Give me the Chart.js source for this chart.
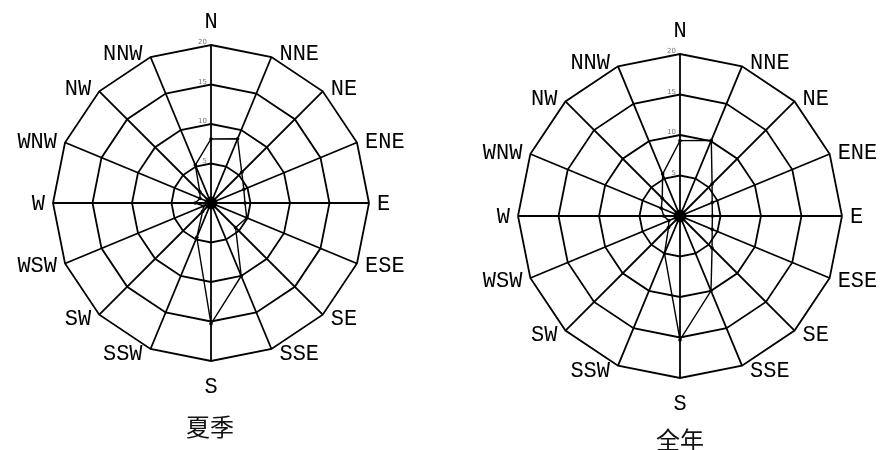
<!DOCTYPE html>
<html>
<head>
<meta charset="utf-8">
<script src="https://cdn.jsdelivr.net/npm/chart.js@4/dist/chart.umd.min.js"></script>
<style>
  html, body { margin: 0; padding: 0; background: #fff; }
  body { width: 881px; height: 450px; position: relative; overflow: hidden; }
  canvas { position: absolute; top: 0; }
  #summer { left: 0; }
  #annual { left: 440px; }
  .caption { position: absolute; font: 24px "Noto Sans CJK SC", sans-serif; line-height: 24px; color: #111; width: 120px; text-align: center; }
</style>
</head>
<body>
<canvas id="summer" width="440" height="450"></canvas>
<canvas id="annual" width="441" height="450"></canvas>
<div class="caption" style="left:150px; top:414px;">夏季</div>
<div class="caption" style="left:620px; top:427px;">全年</div>
<script>
const DIRECTIONS = ['N', 'NNE', 'NE', 'ENE', 'E', 'ESE', 'SE', 'SSE', 'S', 'SSW', 'SW', 'WSW', 'W', 'WNW', 'NW', 'NNW'];
const SUMMER = [8.1, 8.8, 5.5, 4.5, 4.3, 4.9, 4.4, 10.0, 15.3, 4.7, 1.5, 1.0, 2.0, 1.5, 2.0, 5.2];
const ANNUAL = [9.3, 10.1, 5.6, 4.3, 4.0, 4.3, 5.6, 10.0, 15.3, 5.0, 2.0, 1.5, 2.0, 2.5, 3.1, 5.6];
const RING_TICKS = [5, 10, 15, 20];

// centre dot, small ring values and compass names
const roseText = {
  id: 'roseText',
  afterDraw(chart) {
    const r = chart.scales.r, ctx = chart.ctx;
    ctx.save();
    ctx.fillStyle = '#000';
    ctx.beginPath();
    ctx.arc(r.xCenter, r.yCenter, 6.5, 0, Math.PI * 2);
    ctx.fill();

    ctx.font = '7px "DejaVu Sans"';
    ctx.fillStyle = '#777';
    ctx.textAlign = 'right';
    ctx.textBaseline = 'bottom';
    RING_TICKS.forEach(v => {
      const d = r.getDistanceFromCenterForValue(v);
      ctx.fillText(String(v), r.xCenter - 4, r.yCenter - d + 1);
    });

    ctx.font = '22px "Liberation Mono", monospace';
    ctx.fillStyle = '#000';
    ctx.textBaseline = 'middle';
    chart.data.labels.forEach((name, i) => {
      const p = r.getPointPosition(i, r.drawingArea);
      const a = r.getIndexAngle(i);
      const s = Math.sin(a), c = Math.cos(a);
      let x = p.x, y = p.y;
      if (Math.abs(s) < 0.01) {
        ctx.textAlign = 'center';
        y += c > 0 ? -23 : 26;
      } else {
        ctx.textAlign = s > 0 ? 'left' : 'right';
        x += s > 0 ? 8 : -8;
        y += -4.5 * c + 1;
      }
      ctx.fillText(name, x, y);
    });
    ctx.restore();
  }
};

function roseChart(canvasId, values, padding) {
  return new Chart(document.getElementById(canvasId), {
    type: 'radar',
    data: {
      labels: DIRECTIONS,
      datasets: [{ data: values, borderColor: '#000', borderWidth: 1.4, pointRadius: 1.8, pointBackgroundColor: '#000', pointBorderWidth: 0, fill: false }]
    },
    options: {
      responsive: false, animation: false,
      layout: { padding },
      plugins: { legend: { display: false }, tooltip: { enabled: false } },
      scales: {
        r: {
          min: 0, max: 20,
          ticks: { display: false, stepSize: 5 },
          pointLabels: { display: false },
          grid: { color: '#000', lineWidth: 1.8 },
          angleLines: { color: '#000', lineWidth: 1.8 }
        }
      }
    },
    plugins: [roseText]
  });
}

roseChart('summer', SUMMER, { left: 53, top: 45, right: 70, bottom: 88 });
roseChart('annual', ANNUAL, { left: 78, top: 54, right: 38, bottom: 71 });
</script>
</body>
</html>
